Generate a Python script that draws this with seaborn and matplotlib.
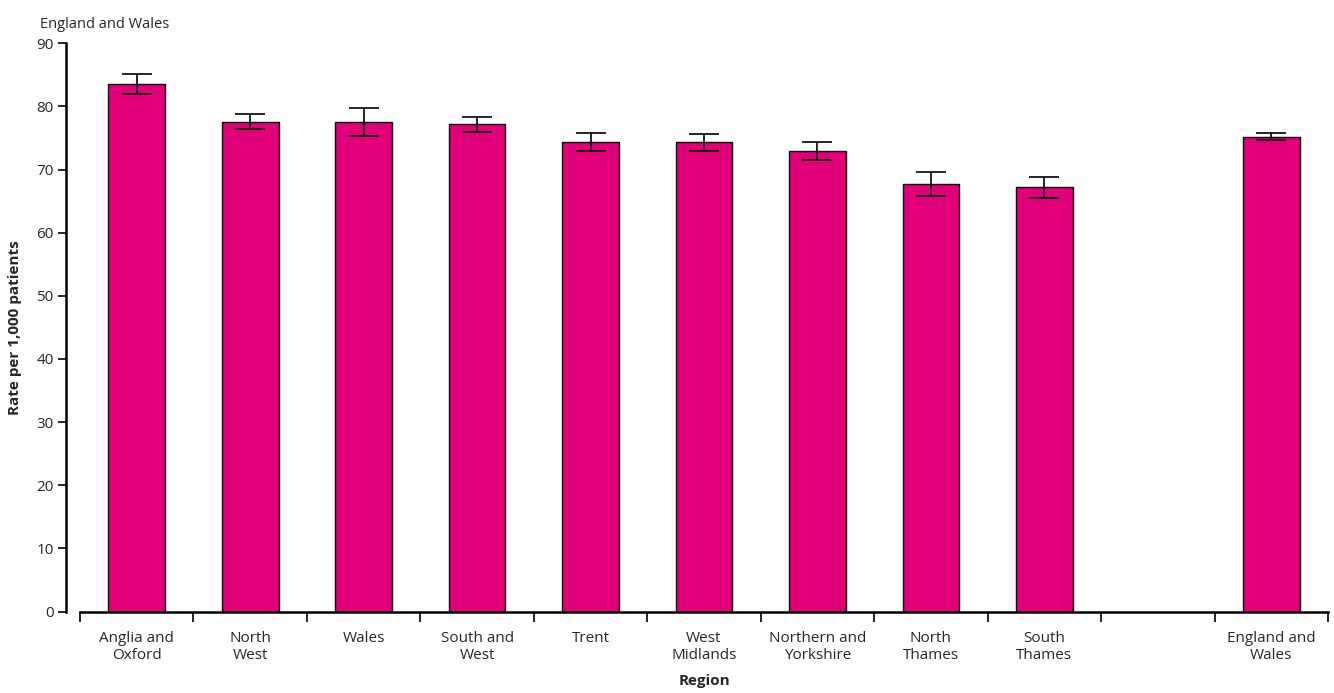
import numpy as np
import pandas as pd
import matplotlib
matplotlib.use("Agg")
import matplotlib.pyplot as plt
import seaborn as sns

regions = ["Anglia and\nOxford", "North\nWest", "Wales", "South and\nWest", "Trent",
           "West\nMidlands", "Northern and\nYorkshire", "North\nThames", "South\nThames",
           "England and\nWales"]
rates = [83.5, 77.6, 77.5, 77.2, 74.4, 74.3, 72.9, 67.7, 67.2, 75.2]
ci_half = [1.6, 1.2, 2.2, 1.2, 1.4, 1.35, 1.4, 1.85, 1.7, 0.55]

# a blank slot separates the regions from the national figure
order = regions[:9] + [" "] + regions[9:]
yticks = list(range(0, 91, 10))

sns.set_theme(style="white")
plt.rcParams["font.family"] = ["Open Sans", "DejaVu Sans"]

df = pd.DataFrame({"Region": regions, "Rate": rates, "ci": ci_half})

fig = plt.figure(figsize=(13.34, 6.93), dpi=100)
ax = fig.add_axes([80 / 1334, 1 - 611.5 / 693, 1248 / 1334, (611.5 - 43.3) / 693])

sns.barplot(data=df, x="Region", y="Rate", order=order, color="#E2007A",
            saturation=1, width=0.5, edgecolor="black", linewidth=1.0,
            errorbar=None, ax=ax)

pos = [order.index(r) for r in regions]
ax.errorbar(pos, rates, yerr=ci_half, fmt="none", ecolor="black",
            elinewidth=1.2, capsize=11, capthick=1.2, zorder=5)

ax.set_xlim(-0.5, len(order) - 0.5)
ax.set_ylim(0, 90)
ax.set_yticks(yticks)
ax.set_yticklabels([str(t) for t in yticks], fontsize=11)

ax.set_xticks(range(len(order)))
ax.set_xticklabels(order, fontsize=11, linespacing=1.15)
ax.set_xticks(np.arange(-0.5, len(order), 1.0), minor=True)
ax.tick_params(axis="x", which="major", bottom=True, length=0, pad=14)
ax.tick_params(axis="x", which="minor", bottom=True, length=7, width=1.2,
               color="black", direction="out")
ax.tick_params(axis="y", which="major", left=True, length=6, width=1.2,
               color="black", direction="out", pad=3)

for s in ["top", "right"]:
    ax.spines[s].set_visible(False)
ax.spines["left"].set_position(("outward", 10))
ax.spines["left"].set_linewidth(1.8)
ax.spines["left"].set_color("black")
ax.spines["bottom"].set_linewidth(1.8)
ax.spines["bottom"].set_color("black")

ax.set_xlabel("Region", fontsize=11, fontweight="bold", labelpad=8)
ax.set_ylabel("Rate per 1,000 patients", fontsize=11, fontweight="bold", labelpad=10)

fig.text(40 / 1334, 1 - 24 / 693, "England and Wales", fontsize=10.5, va="center", ha="left")

fig.savefig("out.png", dpi=100, facecolor="white")
